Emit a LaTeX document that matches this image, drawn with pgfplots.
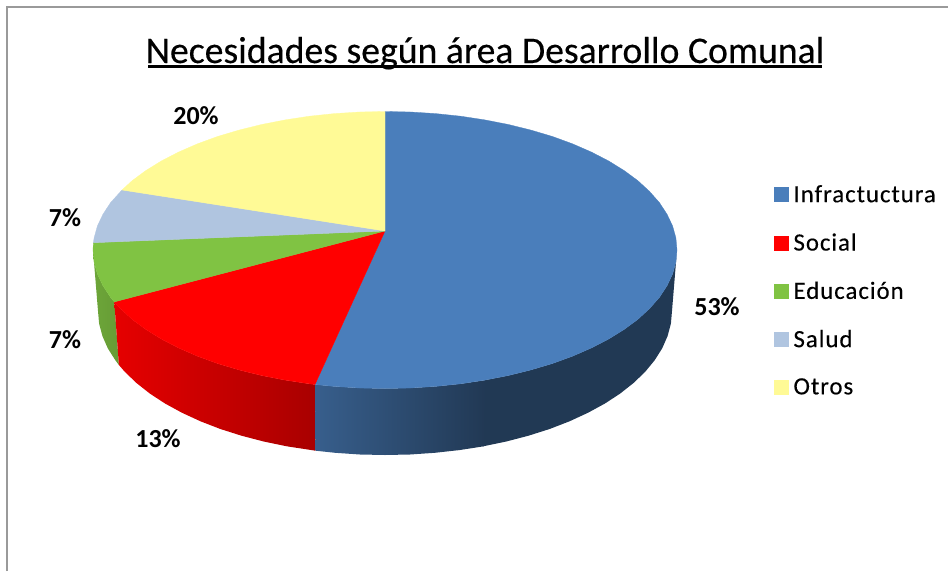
\documentclass[border=0pt]{standalone}
\usepackage{pgfplots}
\pgfplotsset{compat=1.18}
\usepackage{fontspec}
\setmainfont{Carlito}
\newfontfamily\legfont[LetterSpace=4,FakeBold=0.25]{Carlito}
\newfontfamily\titlefont[FakeBold=0.3]{Carlito}
\definecolor{cblue}{HTML}{4A7EBB}
\definecolor{cred}{HTML}{FF0000}
\definecolor{cgreen}{HTML}{80C343}
\definecolor{csalud}{HTML}{B0C5E0}
\definecolor{cotros}{HTML}{FFFA96}
\definecolor{frame}{HTML}{9A9A9A}
\begin{document}
\begin{tikzpicture}
\useasboundingbox (0pt,0pt) rectangle (948pt,571pt);
\begin{axis}[
  at={(0pt,0pt)}, anchor=south west,
  scale only axis, width=948pt, height=571pt,
  xmin=0, xmax=948, ymin=0, ymax=571, y dir=reverse,
  hide axis, clip=true,
  legend style={at={(axis cs:774,183)}, anchor=north west, draw=none, fill=none,
    font=\fontsize{24.8}{26}\selectfont\legfont, row sep=25.6pt, inner sep=0pt,
    cells={anchor=west}},
  legend cell align=left,
  legend image code/.code={\path[#1] (0pt,-7pt) rectangle (14pt,7pt); \path (17pt,0pt);},
]
% frame
\addplot[frame, line width=1.2pt, forget plot] coordinates {(7,571) (7,7) (948,7)};
% side faces
\addplot[forget plot, draw=none, left color=cgreen!85!black, right color=cgreen!80!black] coordinates {
 (114.3,301.9)(110.6,297.4)(103,285.8)(97.4,274)(94.1,262.1)(93,250)
 (98,311)(99.1,323.6)(102.4,336)(107.8,348.3)(115.3,360.2)(118.9,365)(114.3,301.9)};
\addplot[forget plot, draw=none, left color=red!90!black, right color=red!66!black] coordinates {
 (315,384.5)(309.4,383.8)(285.1,380.1)(261.6,375.5)(239,369.9)(217.5,363.5)(197.3,356.1)(178.5,347.9)
 (161.3,339)(145.8,329.4)(132.1,319.3)(120.4,308.5)(114.3,301.9)
 (118.9,365)(124.9,371.9)(136.5,383)(149.9,393.6)(165.2,403.6)(182.1,412.8)(200.5,421.3)(220.4,429)
 (241.5,435.7)(263.7,441.5)(286.8,446.3)(315.6,450.7)(315,384.5)};
\addplot[forget plot, draw=none, fill=cblue!45!black] coordinates {
 (677,250)(675.9,262.1)(672.6,274)(667,285.8)(659.4,297.4)(649.6,308.5)(637.9,319.3)(624.2,329.4)
 (608.7,339)(591.5,347.9)(572.7,356.1)(552.5,363.5)(531,369.9)(508.4,375.5)(484.9,380.1)
 (483.2,446.3)(506.3,441.5)(528.5,435.7)(549.6,429)(569.5,421.3)(587.9,412.8)(604.8,403.6)(620.1,393.6)
 (633.5,383)(645.1,371.9)(654.7,360.2)(662.2,348.3)(667.6,336)(670.9,323.6)(672,311)(677,250)};
\addplot[forget plot, draw=none, left color=cblue!75!black, right color=cblue!45!black] coordinates {
 (485.5,380.1)(460.6,383.8)(435.7,386.4)(410.5,388)(385,388.5)(359.5,388)(334.3,386.4)(315,384.5)
 (315.6,450.7)(335.2,452.8)(360,454.5)(385,455)(410,454.5)(434.8,452.8)(459.3,450.1)(483.8,446.3)(485.5,380.1)};
% top faces
\addplot[fill=cblue, draw=cblue, line width=0.3pt] coordinates {
 (385,231)(385,111.5)(410.5,112)(435.7,113.6)(460.6,116.2)(484.9,119.9)(508.4,124.5)(531,130.1)(552.5,136.5)
 (572.7,143.9)(591.5,152.1)(608.7,161)(624.2,170.6)(637.9,180.7)(649.6,191.5)(659.4,202.6)(667,214.2)
 (672.6,226)(675.9,237.9)(677,250)(675.9,262.1)(672.6,274)(667,285.8)(659.4,297.4)(649.6,308.5)
 (637.9,319.3)(624.2,329.4)(608.7,339)(591.5,347.9)(572.7,356.1)(552.5,363.5)(531,369.9)(508.4,375.5)
 (484.9,380.1)(460.6,383.8)(435.7,386.4)(410.5,388)(385,388.5)(359.5,388)(334.3,386.4)(315,384.5)(385,231)};
\addlegendentry{Infractuctura}
\addplot[fill=cred, draw=cred, line width=0.3pt] coordinates {
 (385,231)(315,384.5)(309.4,383.8)(285.1,380.1)(261.6,375.5)(239,369.9)(217.5,363.5)(197.3,356.1)(178.5,347.9)
 (161.3,339)(145.8,329.4)(132.1,319.3)(120.4,308.5)(114.3,301.9)(385,231)};
\addlegendentry{Social}
\addplot[fill=cgreen, draw=cgreen, line width=0.3pt] coordinates {
 (385,231)(114.3,301.9)(110.6,297.4)(103,285.8)(97.4,274)(94.1,262.1)(93,250)(93.4,242.7)(385,231)};
\addlegendentry{Educación}
\addplot[fill=csalud, draw=csalud, line width=0.3pt] coordinates {
 (385,231)(93.4,242.7)(94.1,237.9)(97.4,226)(103,214.2)(110.6,202.6)(122,190)(385,231)};
\addlegendentry{Salud}
\addplot[fill=cotros, draw=cotros, line width=0.3pt] coordinates {
 (385,231)(122,190)(132.1,180.7)(145.8,170.6)(161.3,161)(178.5,152.1)(197.3,143.9)(217.5,136.5)(239,130.1)
 (261.6,124.5)(285.1,119.9)(309.4,116.2)(334.3,113.6)(359.5,112)(385,111.5)(385,231)};
\addlegendentry{Otros}
% texts
\node[font=\fontsize{37.7}{40}\selectfont\titlefont, anchor=base] at (axis cs:485,63) {Necesidades según área Desarrollo Comunal};
\draw[black, line width=2.4pt] (axis cs:148,66.5) -- (axis cs:822,66.5);
\node[font=\fontsize{26}{28}\selectfont\bfseries] at (axis cs:196,116) {20\%};
\node[font=\fontsize{26}{28}\selectfont\bfseries] at (axis cs:65,218) {7\%};
\node[font=\fontsize{26}{28}\selectfont\bfseries] at (axis cs:65,340) {7\%};
\node[font=\fontsize{26}{28}\selectfont\bfseries] at (axis cs:158,439) {13\%};
\node[font=\fontsize{26}{28}\selectfont\bfseries] at (axis cs:717,307) {53\%};
\end{axis}
\end{tikzpicture}
\end{document}
